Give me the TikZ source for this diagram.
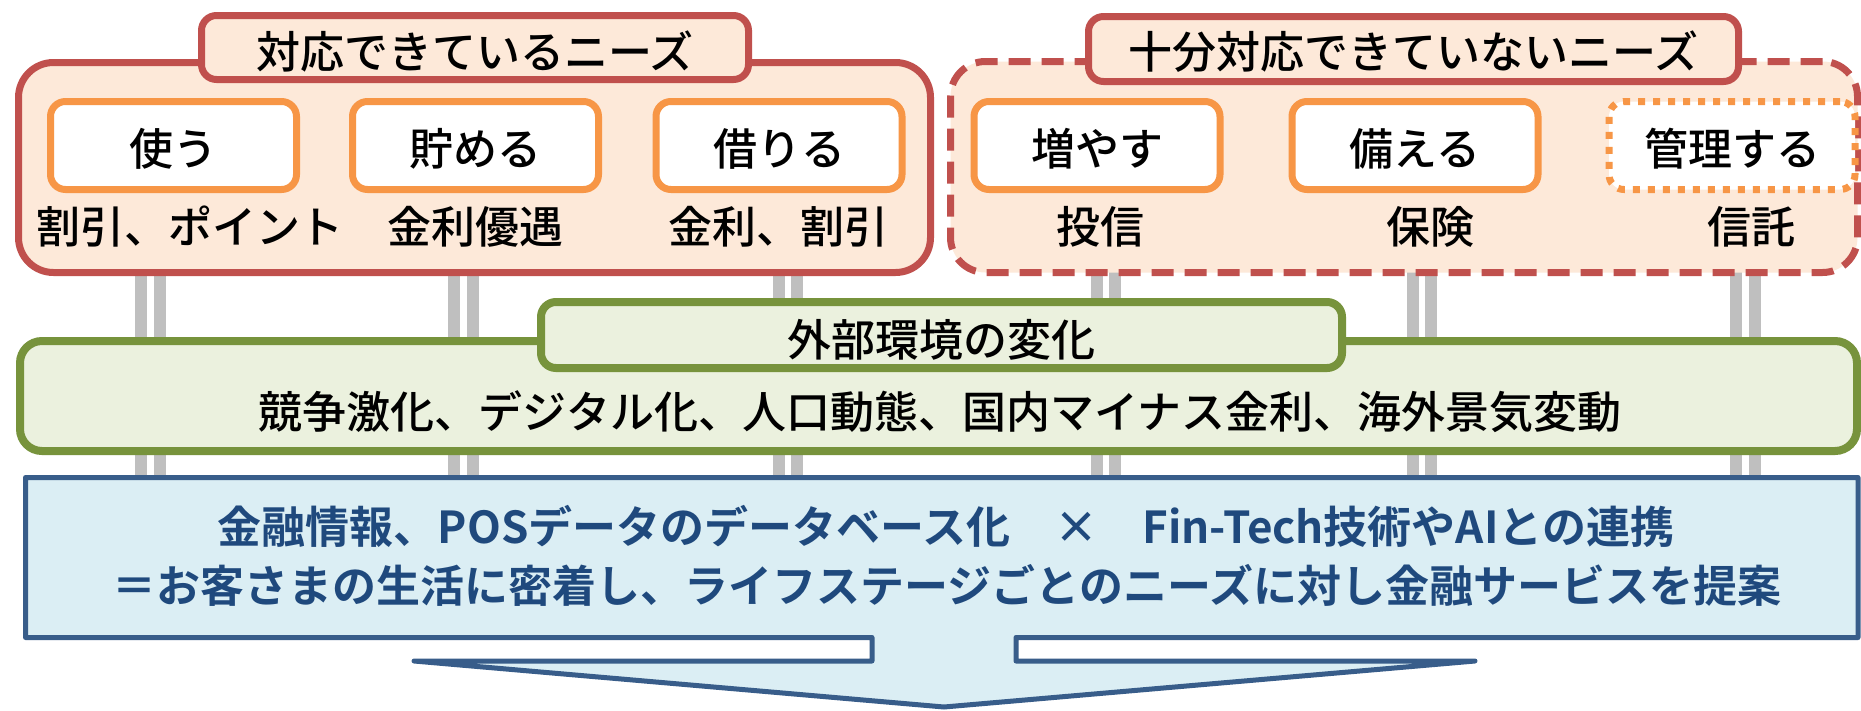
\documentclass[tikz,border=0pt]{standalone}
\usepackage{fontspec}
\newfontfamily\jp{Noto Sans CJK JP Medium}
\newfontfamily\jpb{Noto Sans CJK JP Bold}
\definecolor{redB}{HTML}{C0504D}
\definecolor{redF}{HTML}{FDE9D9}
\definecolor{oraB}{HTML}{F79646}
\definecolor{grnB}{HTML}{77933C}
\definecolor{grnF}{HTML}{EBF1DE}
\definecolor{bluB}{HTML}{385D8A}
\definecolor{bluF}{HTML}{DBEEF4}
\definecolor{bluT}{HTML}{1F497D}
\definecolor{pil}{HTML}{BFBFBF}
\begin{document}
\begin{tikzpicture}[x=1pt,y=-1pt,
  every node/.style={inner sep=0pt, outer sep=0pt},
  txt/.style={font=\jp\fontsize{44}{50}\selectfont, text=black},
  btxt/.style={font=\jpb\fontsize{44}{50}\selectfont, text=bluT},
  redbox/.style={draw=redB, fill=redF, line width=7pt, rounded corners=35pt},
  redtitle/.style={draw=redB, fill=redF, line width=7pt, rounded corners=15pt, minimum height=64pt},
  inbox/.style={draw=oraB, fill=white, line width=7pt, rounded corners=15pt, minimum width=246pt, minimum height=88pt},
  grnbox/.style={draw=grnB, fill=grnF, line width=8pt, rounded corners=22pt},
  callout/.style={draw=bluB, fill=bluF, line width=5pt, line join=round},
  pillar/.style={draw=pil, line width=12pt},
]
\useasboundingbox (0,0) rectangle (1861,710);
\fill[white] (0,0) rectangle (1861,710);

% pillars
\foreach \px in {141,160,454,473,779,797,1097,1115,1413,1431,1736,1755}{
  \draw[pillar] (\px,240) -- (\px,500);
}

% top-left group
\node[redbox, minimum width=912pt, minimum height=210pt] (L) at (474.5,167.5) {};
\node[redtitle, minimum width=547pt] (LT) at (475,47.5) {};
\node[txt] (LTt) at (475,51) {対応できているニーズ};
\node[inbox] (B1) at (173.5,145.5) {};
\node[inbox] (B2) at (475.5,145.5) {};
\node[inbox] (B3) at (779,145.5) {};
\node[txt] at (B1.center) [yshift=-3pt] {使う};
\node[txt] at (B2.center) [yshift=-3pt] {貯める};
\node[txt] at (B3.center) [yshift=-3pt] {借りる};
\node[txt] (l1) at (190,227) {割引、ポイント};
\node[txt] (l2) at (475,227) {金利優遇};
\node[txt] (l3) at (778,227) {金利、割引};

% top-right group
\node[redbox, dash pattern=on 22pt off 11pt, minimum width=907pt, minimum height=211pt] (R) at (1404,167) {};
\node[redtitle, minimum width=650pt, minimum height=65pt] (RT) at (1413.5,49) {};
\node[txt] (RTt) at (1413.5,52) {十分対応できていないニーズ};
\node[inbox] (B4) at (1097,145.5) {};
\node[inbox] (B5) at (1415,145.5) {};
\node[inbox, dash pattern=on 7pt off 8pt] (B6) at (1732,145.5) {};
\node[txt] at (B4.center) [yshift=-3pt] {増やす};
\node[txt] at (B5.center) [yshift=-3pt] {備える};
\node[txt] at (B6.center) [yshift=-3pt] {管理する};
\node[txt] (l4) at (1100,227) {投信};
\node[txt] (l5) at (1430,227) {保険};
\node[txt] (l6) at (1751,227) {信託};

% green group
\node[grnbox, minimum width=1837pt, minimum height=110pt] (G) at (938.5,396) {};
\node[grnbox, rounded corners=15pt, minimum width=801pt, minimum height=66pt] (GT) at (941.5,335) {};
\node[txt] (GTt) at (941,340) {外部環境の変化};
\node[txt] (Gt) at (940,412) {競争激化、デジタル化、人口動態、国内マイナス金利、海外景気変動};

% blue callout
\draw[callout] (25.5,477.5) -- (1858,477.5) -- (1858,637.5) -- (1016,637.5) -- (1016,661)
  -- (1475,661) -- (944,707) -- (414,661) -- (872,661) -- (872,637.5) -- (25.5,637.5) -- cycle;
\node[btxt] (C1) at (946,526) {金融情報、POSデータのデータベース化　×　Fin-Tech技術やAIとの連携};
\node[btxt] (C2) at (947,585) {＝お客さまの生活に密着し、ライフステージごとのニーズに対し金融サービスを提案};
\end{tikzpicture}
\end{document}
